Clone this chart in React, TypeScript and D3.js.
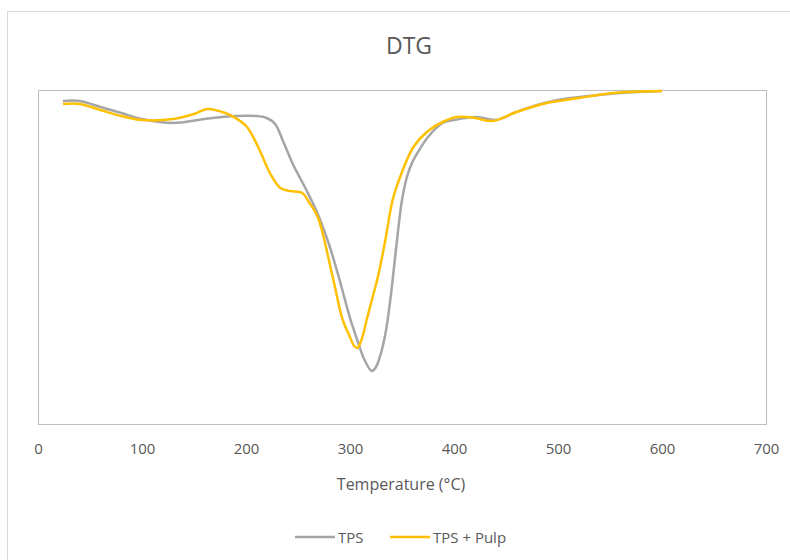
import React, { useEffect, useRef } from 'react';
import * as d3 from 'd3';

// temperatures (°C) and DTG readings
const tpsTemp = [24, 40, 60, 80, 100, 130, 160, 190, 210, 220, 228, 236, 245, 252, 259, 269, 280, 290, 300, 307, 314, 321, 325, 329, 334, 338, 341, 345, 350, 355, 360, 366, 375, 389, 400, 422, 440, 460, 480, 500, 530, 560, 600];
const tpsDtg = [-0.055, -0.055, -0.085, -0.115, -0.145, -0.165, -0.145, -0.13, -0.13, -0.14, -0.17, -0.26, -0.37, -0.44, -0.51, -0.62, -0.775, -0.95, -1.14, -1.25, -1.35, -1.405, -1.385, -1.33, -1.22, -1.08, -0.95, -0.76, -0.55, -0.43, -0.36, -0.305, -0.235, -0.165, -0.15, -0.135, -0.15, -0.11, -0.075, -0.05, -0.03, -0.015, -0.005];

const pulpTemp = [24, 40, 60, 80, 100, 130, 150, 163, 180, 190, 201, 213, 223, 233, 242, 254, 261, 269, 284, 293, 300, 304, 307, 311, 316, 321, 327, 334, 341, 350, 361, 375, 389, 403, 420, 437, 460, 489, 520, 553, 600];
const pulpDtg = [-0.07, -0.07, -0.1, -0.13, -0.15, -0.145, -0.12, -0.095, -0.115, -0.14, -0.185, -0.3, -0.415, -0.49, -0.505, -0.515, -0.565, -0.635, -0.95, -1.15, -1.235, -1.28, -1.29, -1.25, -1.15, -1.05, -0.93, -0.75, -0.55, -0.41, -0.285, -0.205, -0.16, -0.135, -0.14, -0.155, -0.11, -0.065, -0.04, -0.015, -0.005];

const xTicks = [0, 100, 200, 300, 400, 500, 600, 700];
const seriesNames = ['TPS', 'TPS + Pulp'];
const seriesColors = ['#a5a5a5', '#ffc000'];

const App = () => {
  const ref = useRef<SVGSVGElement | null>(null);

  useEffect(() => {
    const svg = d3.select(ref.current);
    svg.selectAll('*').remove();

    const width = 790;
    const height = 560;
    const plot = { left: 38, top: 90, right: 766, bottom: 424 };
    const font = '"Open Sans", sans-serif';
    const textColor = '#595959';

    // chart area border
    svg.append('rect')
      .attr('x', 7.5).attr('y', 11.5)
      .attr('width', width + 20).attr('height', height + 20)
      .attr('fill', '#fff').attr('stroke', '#d9d9d9');

    const x = d3.scaleLinear().domain([0, 700]).range([plot.left, plot.right]);
    const y = d3.scaleLinear().domain([-1.67, 0]).range([plot.bottom, plot.top]);

    // plot area border
    svg.append('rect')
      .attr('x', plot.left + 0.5).attr('y', plot.top + 0.5)
      .attr('width', plot.right - plot.left).attr('height', plot.bottom - plot.top)
      .attr('fill', 'none').attr('stroke', '#bfbfbf');

    svg.append('text')
      .attr('x', 409).attr('y', 54)
      .attr('text-anchor', 'middle')
      .attr('font-family', font).attr('font-size', 23)
      .attr('fill', textColor)
      .text('DTG');

    const axis = d3.axisBottom(x).tickValues(xTicks).tickSize(0).tickPadding(19);
    const axisG = svg.append('g').attr('transform', `translate(0, ${plot.bottom})`).call(axis);
    axisG.select('.domain').remove();
    axisG.selectAll('text')
      .attr('font-family', font).attr('font-size', 15)
      .attr('fill', textColor);

    svg.append('text')
      .attr('x', 401).attr('y', 490)
      .attr('text-anchor', 'middle')
      .attr('font-family', font).attr('font-size', 16)
      .attr('fill', textColor)
      .text('Temperature (°C)');

    // smoothed lines like the spreadsheet's "smooth line" option
    const line = d3.line<[number, number]>()
      .x((d) => x(d[0]))
      .y((d) => y(d[1]))
      .curve(d3.curveCatmullRom.alpha(0.5));

    const series = [
      tpsTemp.map((t, i) => [t, tpsDtg[i]] as [number, number]),
      pulpTemp.map((t, i) => [t, pulpDtg[i]] as [number, number]),
    ];

    series.forEach((pts, i) => {
      svg.append('path')
        .attr('d', line(pts))
        .attr('fill', 'none')
        .attr('stroke', seriesColors[i])
        .attr('stroke-width', 2.5)
        .attr('stroke-linejoin', 'round');
    });

    // legend
    const legendX = [295, 390];
    seriesNames.forEach((name, i) => {
      const g = svg.append('g').attr('transform', `translate(${legendX[i]}, 537)`);
      g.append('line')
        .attr('x1', 0).attr('x2', 40)
        .attr('stroke', seriesColors[i]).attr('stroke-width', 2.5);
      g.append('text')
        .attr('x', 43).attr('y', 6)
        .attr('font-family', font).attr('font-size', 15)
        .attr('fill', textColor)
        .text(name);
    });
  }, []);

  return (
    <div>
      <svg ref={ref} width={790} height={560} style={{ position: 'absolute', left: 0, top: 0 }} />
    </div>
  );
};

export default App;
